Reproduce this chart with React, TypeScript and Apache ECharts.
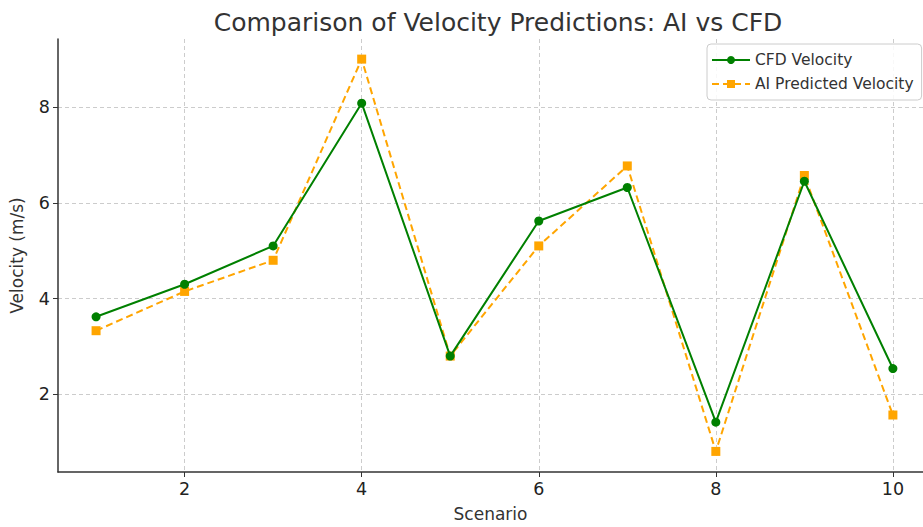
import React, { useEffect, useRef } from "react";
import * as echarts from "echarts";

const scenarios = [1, 2, 3, 4, 5, 6, 7, 8, 9, 10];
const cfdVelocity = [3.62, 4.3, 5.1, 8.08, 2.8, 5.62, 6.32, 1.42, 6.45, 2.54];
const aiVelocity = [3.33, 4.15, 4.8, 9.0, 2.8, 5.1, 6.77, 0.81, 6.57, 1.57];
const xTicks = [2, 4, 6, 8, 10];
const yTicks = [2, 4, 6, 8];

const FONT = "DejaVu Sans";

export default function App() {
  const ref = useRef<HTMLDivElement>(null);
  useEffect(() => {
    if (!ref.current) return;
    const chart = echarts.init(ref.current, undefined, { renderer: "svg" });
    chart.setOption({
      animation: false,
      backgroundColor: "#ffffff",
      textStyle: { fontFamily: FONT },
      title: {
        text: "Comparison of Velocity Predictions: AI vs CFD",
        left: 493,
        textAlign: "center",
        top: 5,
        textStyle: { fontFamily: FONT, fontSize: 25, fontWeight: "normal", color: "#333333" },
      },
      legend: {
        left: 707,
        top: 44,
        orient: "vertical",
        padding: [8, 8, 8, 4],
        itemGap: 8,
        itemWidth: 38,
        itemHeight: 10,
        borderColor: "#cccccc",
        borderWidth: 1,
        borderRadius: 4,
        backgroundColor: "rgba(255,255,255,0.85)",
        textStyle: { fontFamily: FONT, fontSize: 15.5, color: "#333333" },
        data: ["CFD Velocity", "AI Predicted Velocity"],
      },
      grid: { left: 54, right: 0, top: 39, bottom: 49 },
      xAxis: {
        type: "value",
        min: 0.57,
        max: 10.34,
        name: "Scenario",
        nameLocation: "middle",
        nameGap: 33,
        nameTextStyle: { fontFamily: FONT, fontSize: 17, color: "#333333" },
        axisLine: { show: true, onZero: false, lineStyle: { color: "#333333", width: 1.5 } },
        axisTick: { show: true, customValues: xTicks, length: 5, lineStyle: { color: "#333333" } },
        axisLabel: { customValues: xTicks, fontSize: 17.5, color: "#222222", margin: 8, fontFamily: FONT },
        splitLine: { show: true, lineStyle: { color: "#cccccc", type: [4, 3], width: 1 } },
      },
      yAxis: {
        type: "value",
        min: 0.38,
        max: 9.42,
        name: "Velocity (m/s)",
        nameLocation: "middle",
        nameGap: 33,
        nameTextStyle: { fontFamily: FONT, fontSize: 17, color: "#333333" },
        axisLine: { show: true, onZero: false, lineStyle: { color: "#333333", width: 1.5 } },
        axisTick: { show: true, customValues: yTicks, length: 5, lineStyle: { color: "#333333" } },
        axisLabel: { customValues: yTicks, fontSize: 17.5, color: "#222222", margin: 8, fontFamily: FONT },
        splitLine: { show: true, lineStyle: { color: "#cccccc", type: [4, 3], width: 1 } },
      },
      series: [
        {
          name: "CFD Velocity",
          type: "line",
          data: scenarios.map((s, i) => [s, cfdVelocity[i]]),
          symbol: "circle",
          symbolSize: 9,
          itemStyle: { color: "#008000" },
          lineStyle: { color: "#008000", width: 2 },
          z: 3,
        },
        {
          name: "AI Predicted Velocity",
          type: "line",
          data: scenarios.map((s, i) => [s, aiVelocity[i]]),
          symbol: "rect",
          symbolSize: 9,
          itemStyle: { color: "#FFA500" },
          lineStyle: { color: "#FFA500", width: 2, type: [7, 4] },
          z: 2,
        },
      ],
    });
    return () => chart.dispose();
  }, []);
  return (
    <div
      ref={ref}
      style={{ position: "fixed", left: 0, top: 0, width: 923, height: 527 }}
    />
  );
}
